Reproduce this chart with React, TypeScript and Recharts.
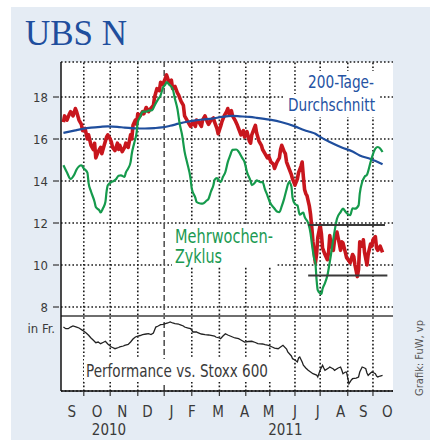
import { ComposedChart, Line, XAxis, YAxis, CartesianGrid, ReferenceLine } from 'recharts';

const FONT = "'Liberation Sans Narrow', 'Arial Narrow', 'DejaVu Sans Condensed', sans-serif";

const COLORS = {
  panel: '#e5ecf4',
  price: '#c8161d',
  average: '#1f4e9d',
  cycle: '#159a4c',
  perf: '#222222',
  text: '#3a3a3a',
} as const;

// x = trading-day index from early September 2010
const monthStarts = [19, 41, 64, 86, 109, 132, 154, 174, 195, 216, 239, 260];
const yearStart = 86;
const monthLabelPos = [9, 30, 51, 72, 92, 109, 131, 153, 173, 195, 214, 233, 252, 272];
const monthLabels = ['S', 'O', 'N', 'D', 'J', 'F', 'M', 'A', 'M', 'J', 'J', 'A', 'S', 'O'];
const yearLabelPos = [40, 187];
const yearLabels = ['2010', '2011'];
const priceTicks = [8, 10, 12, 14, 16, 18];

// UBS N share price in Fr.
const price: [number, number][] = [
  [2, 16.8], [3, 17.1], [5, 16.9], [7, 17.2], [8, 17.3], [10, 17.1], [12, 17.45], [13, 17.3],
  [15, 16.9], [17, 16.7], [18, 16.4], [20, 16.5], [22, 16.0], [23, 16.2], [25, 15.7], [27, 15.5],
  [28, 15.8], [29, 15.1], [31, 15.4], [33, 15.6], [34, 15.3], [36, 15.7], [38, 16.1], [39, 16.2],
  [41, 16.0], [42, 15.85], [43, 15.6], [45, 15.45], [47, 15.8], [48, 15.5], [49, 15.7], [51, 15.4],
  [53, 15.6], [54, 15.8], [56, 15.6], [58, 16.2], [59, 16.0], [60, 16.65], [62, 16.9], [63, 16.7],
  [64, 17.2], [66, 17.1], [68, 17.3], [69, 17.2], [71, 17.5], [73, 17.3], [74, 17.4], [77, 17.6],
  [78, 18.0], [80, 18.4], [82, 18.3], [83, 18.7], [85, 18.6], [87, 18.9], [88, 19.05], [90, 18.7],
  [92, 18.8], [93, 18.4], [95, 18.5], [97, 18.2], [98, 18.1], [100, 17.8], [102, 17.6], [103, 17.1],
  [105, 16.9], [107, 16.7], [108, 16.6], [110, 16.8], [112, 16.6], [113, 16.9], [115, 16.8], [117, 16.6],
  [118, 16.9], [120, 17.1], [122, 16.8], [123, 16.7], [125, 16.9], [127, 17.0], [128, 16.8], [130, 16.5],
  [131, 16.25], [133, 16.6], [134, 16.8], [136, 17.1], [138, 17.3], [139, 17.45], [140, 17.2], [142, 17.35],
  [143, 17.1], [145, 16.9], [147, 16.65], [148, 16.5], [150, 16.2], [152, 16.4], [153, 16.1], [155, 16.35],
  [157, 15.9], [158, 15.8], [159, 16.2], [161, 16.5], [162, 16.65], [163, 16.3], [165, 15.9], [167, 15.7],
  [168, 15.5], [170, 15.3], [172, 15.1], [173, 15.2], [175, 14.9], [177, 14.8], [178, 14.6], [180, 14.9],
  [182, 15.1], [183, 15.5], [184, 15.7], [186, 15.4], [187, 15.3], [188, 14.9], [190, 14.6], [192, 14.3],
  [193, 14.1], [195, 13.8], [197, 14.1], [198, 14.4], [200, 14.7], [201, 14.9], [202, 14.2], [203, 13.6],
  [204, 13.4], [205, 13.3], [207, 12.8], [208, 12.4], [209, 11.8], [210, 11.1], [211, 10.6], [212, 10.1],
  [213, 10.5], [214, 11.3], [215, 11.6], [216, 11.9], [217, 11.5], [218, 10.8], [220, 10.5], [222, 10.25],
  [223, 10.6], [224, 11.4], [225, 11.0], [227, 10.7], [228, 11.2], [230, 11.57], [232, 11.0], [233, 10.7],
  [234, 11.1], [235, 11.05], [237, 10.6], [238, 10.35], [240, 10.2], [241, 10.1], [243, 10.5], [244, 10.4],
  [245, 10.0], [247, 9.45], [248, 9.8], [249, 11.1], [251, 10.9], [252, 11.2], [253, 10.6], [255, 10.0],
  [256, 10.5], [258, 11.0], [259, 10.9], [260, 11.2], [262, 11.35], [263, 10.8], [264, 10.7], [266, 10.9],
  [268, 10.6],
];

// 200-Tage-Durchschnitt
const average: [number, number][] = [
  [2, 16.29], [8, 16.36], [12, 16.41], [18, 16.48], [25, 16.54], [33, 16.58], [39, 16.6], [47, 16.58],
  [53, 16.54], [64, 16.5], [70, 16.5], [78, 16.52], [84, 16.55], [91, 16.63], [98, 16.73], [104, 16.81],
  [112, 16.89], [118, 16.93], [126, 16.97], [134, 17.05], [143, 17.1], [149, 17.08], [157, 17.05],
  [163, 17.01], [174, 16.92], [184, 16.8], [195, 16.6], [203, 16.42], [208, 16.33], [212, 16.25],
  [216, 16.1], [224, 15.86], [234, 15.6], [243, 15.4], [249, 15.22], [258, 15.05], [268, 14.8],
];

// Mehrwochen-Zyklus
const cycle: [number, number][] = [
  [2, 14.75], [5, 14.4], [8, 14.1], [11, 14.3], [13, 14.55], [17, 14.75], [19, 14.6], [22, 14.4],
  [23, 13.9], [25, 13.5], [28, 13.0], [29, 12.76], [32, 12.6], [33, 12.5], [35, 12.7], [37, 13.0],
  [38, 13.5], [39, 13.8], [42, 13.95], [44, 14.0], [46, 14.1], [48, 14.25], [50, 14.27], [53, 14.2],
  [54, 14.4], [56, 14.6], [58, 14.9], [59, 15.3], [61, 15.8], [63, 16.3], [64, 16.8], [66, 17.05],
  [68, 17.3], [71, 17.3], [73, 17.35], [76, 17.37], [78, 17.6], [81, 17.9], [83, 18.08], [85, 18.45],
  [87, 18.6], [88, 18.71], [90, 18.6], [93, 18.4], [95, 17.9], [97, 17.44], [99, 16.7], [101, 16.17],
  [103, 15.4], [105, 14.9], [108, 14.1], [109, 13.63], [112, 13.2], [113, 13.0], [116, 12.93], [118, 12.92],
  [121, 13.05], [123, 13.16], [125, 13.5], [127, 13.8], [128, 14.05], [130, 14.14], [132, 14.0], [133, 13.95],
  [135, 14.2], [137, 14.43], [139, 14.9], [141, 15.22], [143, 15.48], [146, 15.5], [148, 15.4], [151, 15.1],
  [153, 14.9], [155, 14.43], [158, 14.0], [159, 13.8], [162, 13.95], [163, 14.03], [166, 13.95], [168, 13.95],
  [170, 13.6], [172, 13.32], [174, 13.0], [178, 12.68], [180, 12.55], [182, 12.52], [184, 12.8], [186, 13.16],
  [188, 13.6], [190, 13.95], [192, 13.75], [193, 13.2], [195, 12.9], [197, 12.84], [199, 12.4], [202, 12.5],
  [203, 12.3], [206, 12.0], [208, 11.5], [209, 11.05], [211, 10.3], [212, 10.1], [213, 9.3], [214, 8.8],
  [216, 8.65], [217, 8.62], [218, 8.87], [220, 9.14], [222, 9.5], [224, 10.14], [227, 11.25], [228, 11.6],
  [230, 12.2], [233, 12.52], [235, 12.68], [237, 12.55], [238, 12.48], [241, 12.37], [243, 12.7], [245, 12.68],
  [248, 12.84], [249, 13.4], [251, 13.95], [253, 14.2], [255, 14.3], [258, 14.9], [259, 15.1], [262, 15.54],
  [264, 15.62], [266, 15.55], [268, 15.38],
];

// Performance vs. Stoxx 600 (relative index, lower panel)
const performance: [number, number][] = [
  [2, 85.3], [4, 83.1], [6, 83.1], [8, 85.3], [10, 86.7], [13, 85.3], [15, 84.0], [18, 80.9],
  [21, 77.3], [23, 74.3], [25, 70.7], [27, 67.6], [29, 64.4], [31, 65.3], [33, 63.1], [35, 64.7],
  [37, 66.3], [39, 62.7], [42, 58.7], [43, 58.0], [45, 56.4], [48, 58.0], [49, 58.7], [52, 60.0],
  [53, 60.9], [56, 62.0], [58, 65.3], [60, 69.3], [62, 72.0], [64, 73.3], [66, 74.0], [68, 75.1],
  [71, 76.0], [73, 76.4], [75, 75.3], [77, 77.3], [79, 85.3], [81, 86.7], [83, 88.4], [85, 88.7],
  [87, 89.7], [89, 90.7], [91, 92.0], [93, 90.7], [95, 89.7], [98, 89.3], [99, 88.4], [102, 86.7],
  [103, 85.3], [106, 84.0], [108, 83.1], [110, 78.7], [113, 78.7], [114, 77.7], [117, 76.0], [120, 75.1],
  [123, 74.7], [125, 74.3], [128, 73.3], [129, 72.0], [132, 70.7], [133, 69.7], [135, 73.3], [137, 76.4],
  [139, 74.7], [143, 72.0], [145, 70.7], [148, 69.7], [150, 68.0], [153, 65.3], [156, 66.0], [159, 66.3],
  [162, 64.7], [164, 63.1], [168, 62.7], [170, 61.7], [173, 60.7], [176, 58.7], [178, 57.3], [181, 56.4],
  [183, 58.7], [185, 60.9], [188, 56.0], [189, 52.0], [192, 46.7], [193, 43.1], [195, 41.3], [197, 38.7],
  [198, 44.0], [199, 45.3], [201, 38.7], [202, 34.3], [204, 30.7], [206, 27.6], [208, 25.3], [210, 23.1],
  [213, 21.3], [214, 18.7], [216, 28.0], [218, 34.3], [219, 30.7], [220, 27.6], [223, 30.7], [224, 32.0],
  [227, 29.3], [228, 27.6], [231, 30.7], [233, 32.0], [234, 28.0], [235, 23.1], [237, 25.3], [238, 25.3],
  [240, 9.7], [242, 14.7], [243, 16.4], [246, 17.3], [248, 18.7], [249, 25.3], [251, 32.0], [253, 30.7],
  [254, 29.7], [255, 24.0], [256, 20.9], [258, 24.0], [259, 25.3], [261, 24.0], [262, 23.1], [263, 20.0],
  [264, 18.7], [266, 20.0], [268, 20.9],
];

// Widerstand / Unterstützung
const resistance = { from: 206, to: 270, level: 11.9 };
const support = { from: 206, to: 272, level: 9.5 };
const panelSplit = 7.57;

const toRows = (pts: [number, number][]) => pts.map(([t, v]) => ({ t, v }));

// one tick list for marks, month letters and years
const axisTicks = Array.from(new Set([...monthStarts, ...monthLabelPos, ...yearLabelPos])).sort((a, b) => a - b);

const PriceTick = ({ x, y, payload }: any) => (
  <g>
    <line x1={x - 8} x2={x - 2} y1={y} y2={y} stroke="#333" strokeWidth={1.2} />
    <text x={x - 13} y={y} dy="0.35em" textAnchor="end" fill={COLORS.text} fontSize={13} fontFamily={FONT}>
      {payload.value}
    </text>
  </g>
);

const TimeTick = ({ x, y, payload }: any) => {
  const v = payload.value;
  const m = monthLabelPos.indexOf(v);
  const yr = yearLabelPos.indexOf(v);
  return (
    <g>
      {monthStarts.includes(v) && <line x1={x} x2={x} y1={y} y2={y + 5} stroke="#333" strokeWidth={1.2} />}
      {m >= 0 && (
        <text x={x} y={y + 20.5} dy="0.35em" textAnchor="middle" fill={COLORS.text} fontSize={15} fontFamily={FONT}>
          {monthLabels[m]}
        </text>
      )}
      {yr >= 0 && (
        <text x={x} y={y + 38.5} dy="0.35em" textAnchor="middle" fill={COLORS.text} fontSize={15} fontFamily={FONT}>
          {yearLabels[yr]}
        </text>
      )}
    </g>
  );
};

const dotted = { stroke: '#1a1a1a', strokeWidth: 1.6, strokeDasharray: '1.6 2.2' };

export default function App() {
  return (
    <div style={{ position: 'absolute', left: 0, top: 0, width: 430, height: 440, background: '#fff' }}>
      <div style={{ position: 'absolute', left: 11, top: 7, width: 419, height: 433, background: COLORS.panel }} />
      <div style={{ position: 'absolute', left: 0, top: 0 }}>
        <ComposedChart width={430} height={440} margin={{ top: 62, right: 37, left: 0, bottom: 4 }}>
          <CartesianGrid
            xAxisId="time"
            yAxisId="price"
            vertical={false}
            fill="#fff"
            stroke={dotted.stroke}
            strokeWidth={dotted.strokeWidth}
            strokeDasharray={dotted.strokeDasharray}
          />
          <XAxis
            xAxisId="time"
            type="number"
            dataKey="t"
            domain={[0, 276.7]}
            allowDataOverflow
            ticks={axisTicks}
            tick={<TimeTick />}
            interval={0}
            tickSize={0}
            tickMargin={0}
            tickLine={false}
            axisLine={{ stroke: '#111', strokeWidth: 1.5 }}
            height={45}
          />
          <YAxis
            yAxisId="price"
            type="number"
            domain={[4, 19.667]}
            allowDataOverflow
            ticks={priceTicks}
            tick={<PriceTick />}
            tickSize={0}
            tickMargin={0}
            tickLine={false}
            axisLine={{ stroke: '#111', strokeWidth: 1.5 }}
            interval={0}
            width={61}
          />
          <YAxis yAxisId="perf" orientation="right" type="number" domain={[0, 438.7]} allowDataOverflow hide width={0} />

          {monthStarts
            .filter((m) => m !== yearStart)
            .map((m) => (
              <ReferenceLine key={m} xAxisId="time" yAxisId="price" x={m} {...dotted} />
            ))}
          <ReferenceLine xAxisId="time" yAxisId="price" x={yearStart} stroke="#555" strokeWidth={1.6} strokeDasharray="6 3" />
          <ReferenceLine xAxisId="time" yAxisId="price" y={panelSplit} stroke="#6e6e6e" strokeWidth={2} />

          <Line
            xAxisId="time"
            yAxisId="price"
            data={toRows(price)}
            dataKey="v"
            type="linear"
            stroke={COLORS.price}
            strokeWidth={3.6}
            strokeLinejoin="round"
            dot={false}
            isAnimationActive={false}
          />
          <Line
            xAxisId="time"
            yAxisId="price"
            data={toRows(average)}
            dataKey="v"
            type="monotone"
            stroke={COLORS.average}
            strokeWidth={2.2}
            dot={false}
            isAnimationActive={false}
          />
          <Line
            xAxisId="time"
            yAxisId="price"
            data={toRows(cycle)}
            dataKey="v"
            type="monotone"
            stroke={COLORS.cycle}
            strokeWidth={2.2}
            dot={false}
            isAnimationActive={false}
          />
          <ReferenceLine
            xAxisId="time"
            yAxisId="price"
            segment={[{ x: resistance.from, y: resistance.level }, { x: resistance.to, y: resistance.level }]}
            stroke="#3a3a3a"
            strokeWidth={2}
          />
          <ReferenceLine
            xAxisId="time"
            yAxisId="price"
            segment={[{ x: support.from, y: support.level }, { x: support.to, y: support.level }]}
            stroke="#3a3a3a"
            strokeWidth={2}
          />
          <Line
            xAxisId="time"
            yAxisId="perf"
            data={toRows(performance)}
            dataKey="v"
            type="linear"
            stroke={COLORS.perf}
            strokeWidth={1.3}
            dot={false}
            isAnimationActive={false}
          />
        </ComposedChart>
      </div>
      <svg width={430} height={440} style={{ position: 'absolute', left: 0, top: 0, pointerEvents: 'none' }}>
        <text x={25} y={45} fill="#1f4e9d" fontSize={35} fontFamily="'Liberation Serif', 'Times New Roman', serif">
          UBS N
        </text>
        <rect x={300} y={71} width={79} height={23} fill="#fff" />
        <rect x={284} y={94} width={96} height={23} fill="#fff" />
        <text fill="#2553a3" fontSize={18} fontFamily={FONT}>
          <tspan x={308} y={88} textLength={66} lengthAdjust="spacingAndGlyphs">200-Tage-</tspan>
          <tspan x={288} y={111} textLength={87} lengthAdjust="spacingAndGlyphs">Durchschnitt</tspan>
        </text>
        <rect x={172} y={225} width={104} height={41} fill="#fff" />
        <text fill="#1b9a52" fontSize={19} fontFamily={FONT}>
          <tspan x={175} y={243} textLength={98} lengthAdjust="spacingAndGlyphs">Mehrwochen-</tspan>
          <tspan x={175} y={263} textLength={47} lengthAdjust="spacingAndGlyphs">Zyklus</tspan>
        </text>
        <rect x={84} y={359} width={187} height={23} fill="#fff" />
        <text x={86} y={377} fill={COLORS.text} fontSize={18.5} fontFamily={FONT} textLength={182} lengthAdjust="spacingAndGlyphs">
          Performance vs. Stoxx 600
        </text>
        <text x={55} y={333} textAnchor="end" fill={COLORS.text} fontSize={13} fontFamily={FONT}>
          in Fr.
        </text>
        <text
          transform="translate(423 358) rotate(-90)"
          textAnchor="middle"
          fill="#555"
          fontSize={11}
          fontFamily={FONT}
        >
          Grafik: FuW, vp
        </text>
      </svg>
    </div>
  );
}
